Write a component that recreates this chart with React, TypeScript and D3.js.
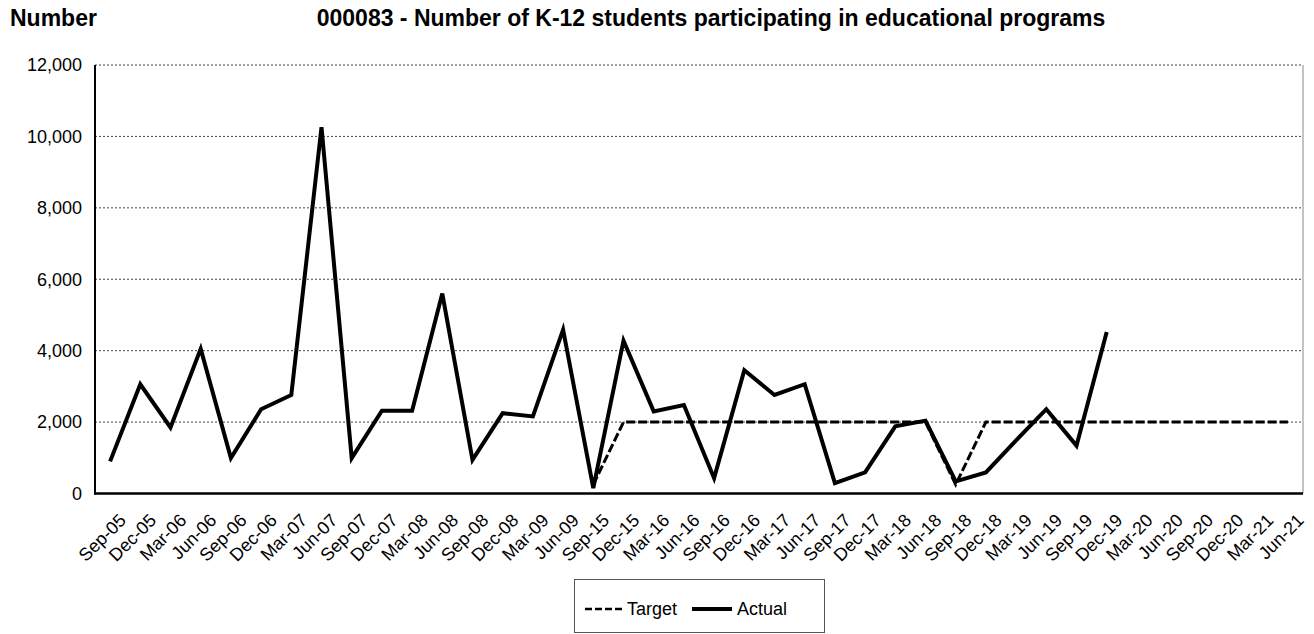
import React from "react";
import * as d3 from "d3";

const categories = [
  "Sep-05","Dec-05","Mar-06","Jun-06","Sep-06","Dec-06","Mar-07","Jun-07","Sep-07","Dec-07",
  "Mar-08","Jun-08","Sep-08","Dec-08","Mar-09","Jun-09","Sep-15","Dec-15","Mar-16","Jun-16",
  "Sep-16","Dec-16","Mar-17","Jun-17","Sep-17","Dec-17","Mar-18","Jun-18","Sep-18","Dec-18",
  "Mar-19","Jun-19","Sep-19","Dec-19","Mar-20","Jun-20","Sep-20","Dec-20","Mar-21","Jun-21",
];

const actual: (number | null)[] = [
  900, 3060, 1850, 4050, 990, 2360, 2760, 10260, 990, 2320,
  2320, 5600, 940, 2250, 2160, 4590, 150, 4280, 2300, 2480,
  430, 3450, 2760, 3060, 290, 590, 1880, 2040, 340, 590,
  1490, 2360, 1340, 4520, null, null, null, null, null, null,
];

const target: (number | null)[] = [
  null, null, null, null, null, null, null, null, null, null,
  null, null, null, null, null, null, 250, 2000, 2000, 2000,
  2000, 2000, 2000, 2000, 2000, 2000, 2000, 2000, 250, 2000,
  2000, 2000, 2000, 2000, 2000, 2000, 2000, 2000, 2000, 2000,
];

const yTicks = [0, 2000, 4000, 6000, 8000, 10000, 12000];

const FONT = "'Liberation Sans', Arial, sans-serif";
const W = 1314, H = 634;
const L = 95, R = 1303, T = 65, B = 493.5;

export default function App() {
  const x = d3.scaleBand<string>().domain(categories).range([L, R]).padding(0);
  const y = d3.scaleLinear().domain([0, 12000]).range([B, T]);
  const cx = (c: string) => (x(c) as number) + x.bandwidth() / 2;
  const fmt = d3.format(",");

  const line = d3
    .line<[string, number | null]>()
    .defined((d) => d[1] != null)
    .x((d) => cx(d[0]))
    .y((d) => y(d[1] as number));

  const actualPath = line(categories.map((c, i) => [c, actual[i]]));
  const targetPath = line(categories.map((c, i) => [c, target[i]]));

  return (
    <svg width={W} height={H} style={{ position: "absolute", left: 0, top: 0, background: "#fff" }} fontFamily={FONT}>
      <text x={10} y={26} fontSize={23} fontWeight="bold" fill="#000">Number</text>
      <text x={711} y={26} fontSize={23} fontWeight="bold" fill="#000" textAnchor="middle">
        000083 - Number of K-12 students participating in educational programs
      </text>

      {/* gridlines */}
      {yTicks.filter((t) => t > 0).map((t) => (
        <line key={t} x1={L} x2={R} y1={y(t)} y2={y(t)} stroke="#444" strokeWidth={1} strokeDasharray="2,2" />
      ))}
      {/* right border */}
      <line x1={R} x2={R} y1={T} y2={B} stroke="#888" strokeWidth={1} />

      {/* y tick labels */}
      {yTicks.map((t) => (
        <text key={t} x={82} y={y(t)} dy="0.35em" fontSize={18} textAnchor="end" fill="#000">{fmt(t)}</text>
      ))}

      {/* x labels */}
      {categories.map((c) => (
        <text key={c} fontSize={18} textAnchor="end" fill="#000"
          transform={`translate(${cx(c) + 17},${B + 28}) rotate(-45)`}>{c}</text>
      ))}

      {/* series */}
      <path d={targetPath || ""} fill="none" stroke="#000" strokeWidth={3} strokeDasharray="9,3" />
      <path d={actualPath || ""} fill="none" stroke="#000" strokeWidth={4} strokeLinejoin="miter" />

      {/* axes */}
      <line x1={L} x2={L} y1={T} y2={B + 1} stroke="#000" strokeWidth={2} />
      <line x1={L - 1} x2={R} y1={B} y2={B} stroke="#000" strokeWidth={2.5} />

      {/* legend */}
      <rect x={574.5} y={579.5} width={250} height={53} fill="#fff" stroke="#555" strokeWidth={1} />
      <line x1={585} x2={623} y1={609} y2={609} stroke="#000" strokeWidth={2.5} strokeDasharray="7,3" />
      <text x={627} y={615} fontSize={18} fill="#000">Target</text>
      <line x1={692} x2={732} y1={609} y2={609} stroke="#000" strokeWidth={4} />
      <text x={737} y={615} fontSize={18} fill="#000">Actual</text>
    </svg>
  );
}
